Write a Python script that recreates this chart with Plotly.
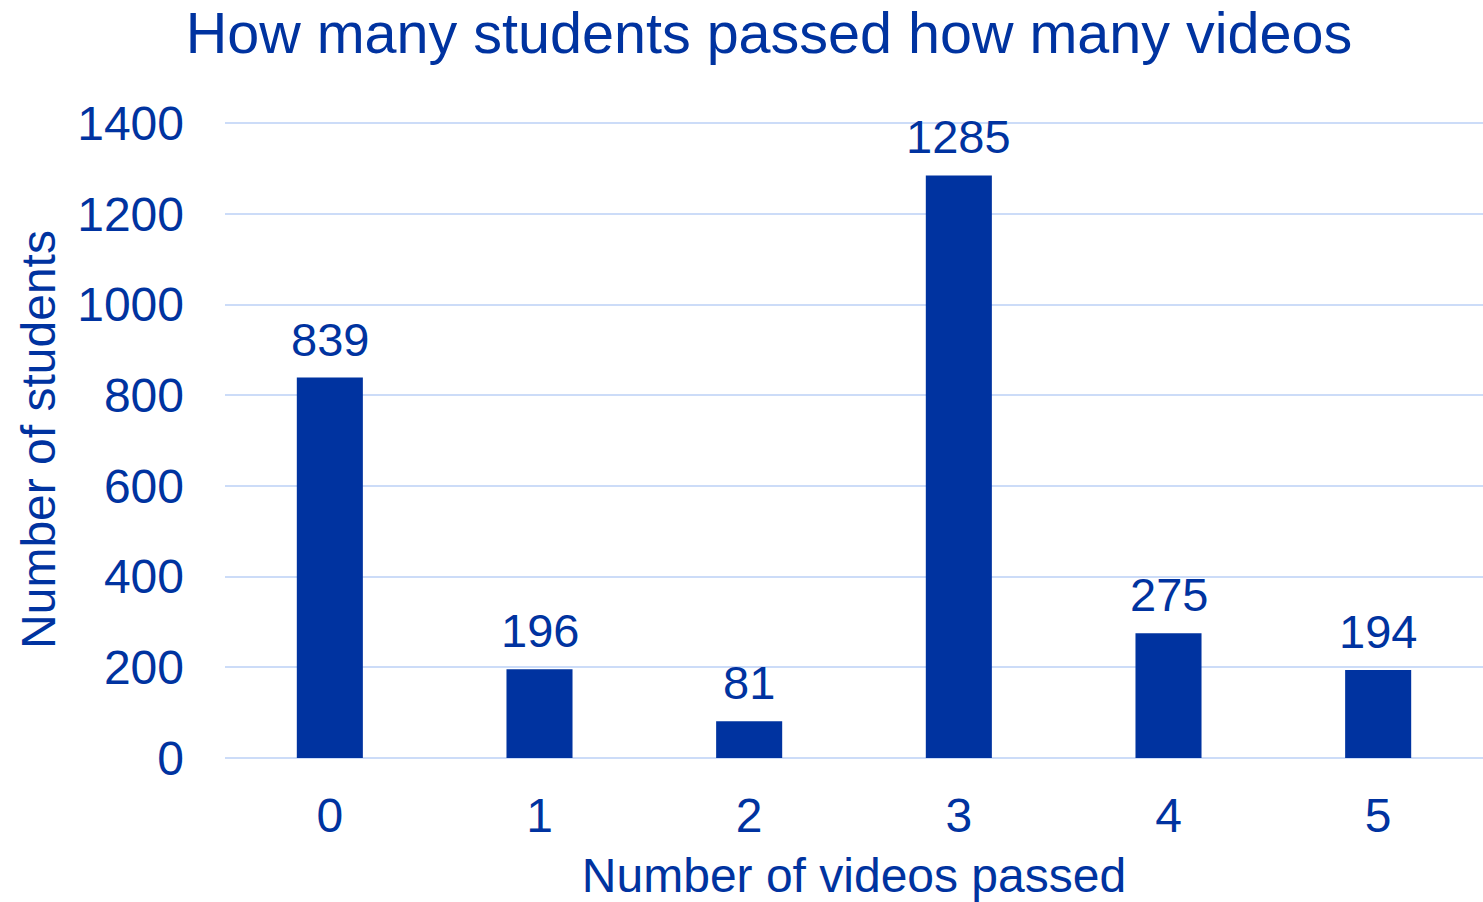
import plotly.graph_objects as go

categories = ["0", "1", "2", "3", "4", "5"]
students = [839, 196, 81, 1285, 275, 194]
y_ticks = [0, 200, 400, 600, 800, 1000, 1200, 1400]

BLUE = "#0033A0"
GRID = "#CCDCF8"
FONT = "Liberation Sans, Arial, sans-serif"

fig = go.Figure()
fig.add_trace(go.Bar(
    x=categories,
    y=students,
    marker=dict(color=BLUE, line=dict(width=0)),
    width=0.315,
    hoverinfo="x+y",
))

for c, v in zip(categories, students):
    fig.add_annotation(
        x=c, y=v, text=str(v), showarrow=False,
        yanchor="bottom", yshift=10,
        font=dict(family=FONT, size=47, color=BLUE),
    )

fig.update_layout(
    width=1483, height=902,
    margin=dict(l=225, r=0, t=121, b=144),
    paper_bgcolor="white", plot_bgcolor="white",
    font=dict(family=FONT, color=BLUE),
    showlegend=False,
    bargap=0.685,
    title=dict(
        text="How many students passed how many videos",
        font=dict(family=FONT, size=57.5, color=BLUE),
        x=769 / 1483, xanchor="center", xref="container",
        y=0.986, yanchor="top", yref="container",
    ),
    xaxis=dict(
        type="category",
        range=[-0.5, 5.5],
        showgrid=False, showline=False, zeroline=False,
        tickfont=dict(family=FONT, size=48, color=BLUE),
        ticklabelstandoff=25,
        title=dict(text="Number of videos passed", standoff=21,
                   font=dict(family=FONT, size=48, color=BLUE)),
        automargin=False,
    ),
    yaxis=dict(
        range=[0, 1405],
        tickvals=y_ticks,
        ticktext=[str(t) for t in y_ticks],
        showgrid=True, gridcolor=GRID, gridwidth=2,
        zeroline=True, zerolinecolor=GRID, zerolinewidth=2,
        showline=False,
        tickfont=dict(family=FONT, size=48, color=BLUE),
        ticklabelstandoff=40,
        title=dict(text="Number of students", standoff=6,
                   font=dict(family=FONT, size=48, color=BLUE)),
        automargin=False,
    ),
)

fig.write_html(
    "out.html",
    config={"displayModeBar": False},
    post_script="document.body.style.margin='0';document.body.style.overflow='hidden';",
)
